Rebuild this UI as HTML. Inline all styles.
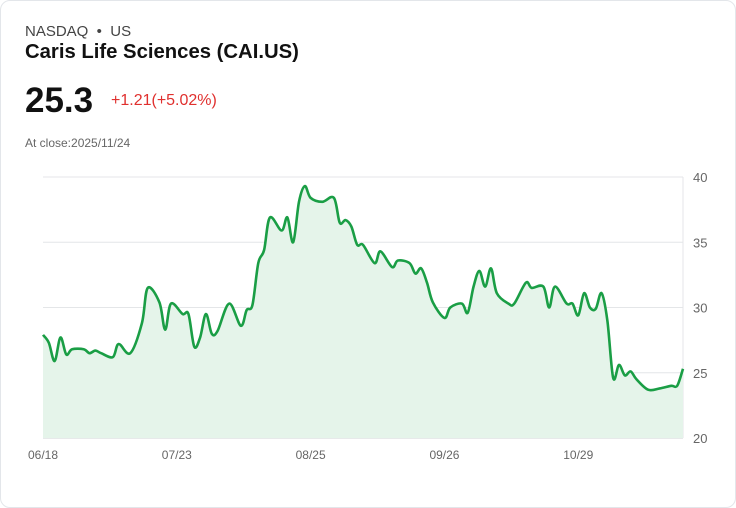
<!DOCTYPE html>
<html><head><meta charset="utf-8"><style>
body{margin:0;background:#fff;font-family:"Liberation Sans",sans-serif;}
.card{position:absolute;left:0;top:0;width:734px;height:506px;border:1px solid #e3e6ea;border-radius:10px;background:#fff;}
.t{position:absolute;white-space:nowrap;}
</style></head><body>
<div class="card">
<div class="t" style="left:24px;top:22px;font-size:15px;color:#444;">NASDAQ &nbsp;•&nbsp; US</div>
<div class="t" style="left:24px;top:40px;font-size:20.3px;font-weight:bold;color:#111;">Caris Life Sciences (CAI.US)</div>
<div class="t" style="left:24px;top:80px;font-size:35px;font-weight:bold;color:#111;">25.3</div>
<div class="t" style="left:110px;top:91px;font-size:16px;color:#e0302e;">+1.21(+5.02%)</div>
<div class="t" style="left:24px;top:135px;font-size:12px;color:#666;">At close:2025/11/24</div>
<svg id="chart" width="736" height="508" style="position:absolute;left:-2px;top:-2px;"></svg>
</div>
<script>
const days=[0,1,2,3,4,5,7,8,9,10,12,13,15,17,18,20,21,22,24,25,26,27,28,29,30,32,34,35,36,37,38,39,41,42,43,44,45,46,48,50,51,52,53,54,55,57,58,60,61,63,64,65,66,67,69,70,72,73,74,75,76,77,78,80,81,83,84,86,87,88,90,91,92,93,94,95,96,97,98,99,100,101,102,104,106,108,109,110];
const values=[27.9,27.3,25.9,27.7,26.4,26.8,26.8,26.5,26.7,26.5,26.2,27.2,26.5,28.8,31.5,30.4,28.3,30.3,29.5,29.5,27.0,27.7,29.5,28.0,28.2,30.3,28.6,29.8,30.2,33.4,34.4,36.9,35.9,36.9,35.0,38.1,39.3,38.4,38.1,38.4,36.5,36.7,36.2,34.8,34.8,33.4,34.3,33.1,33.6,33.4,32.6,33.0,31.9,30.4,29.2,30.0,30.3,29.6,31.6,32.8,31.6,33.0,31.1,30.3,30.3,31.9,31.5,31.6,30.0,31.6,30.3,30.3,29.4,31.1,30.0,29.9,31.1,29.0,24.6,25.6,24.8,25.1,24.5,23.7,23.8,24.0,24.0,25.3];
const yTicks=[20,25,30,35,40];
const xLabels=["06/18","07/23","08/25","09/26","10/29"];
const xLabelDays=[0,23,46,69,92];
const NS="http://www.w3.org/2000/svg";
const svg=document.getElementById('chart');
const X0=44,X1=684,Y0=439,Y1=178,maxDay=110,yMin=20,yMax=40;
const xs=d=>X0+(X1-X0)*d/maxDay;
const ys=v=>Y0-(Y0-Y1)*(v-yMin)/(yMax-yMin);
function mk(t,a){const e=document.createElementNS(NS,t);for(const k in a)e.setAttribute(k,a[k]);svg.appendChild(e);return e;}
yTicks.forEach(v=>{
 const l=mk('line',{x1:X0,x2:X1,y1:ys(v),y2:ys(v),stroke:v===20?'#cfd3d6':'#e4e6e8','stroke-width':1});
 
 
 const t=mk('text',{x:X1+10,y:ys(v)+5,'font-size':13,fill:'#666','font-family':'Liberation Sans, sans-serif'});
 t.textContent=v;
 
 
});
const ax=mk('line',{x1:X1,x2:X1,y1:Y1,y2:Y0,stroke:'#e4e6e8'});


xLabels.forEach((s,i)=>{
 const t=mk('text',{x:xs(xLabelDays[i]),y:460,'font-size':12,fill:'#666','text-anchor':'middle','font-family':'Liberation Sans, sans-serif'});
 t.textContent=s;
 
 
});
const P=days.map((d,i)=>[xs(d),ys(values[i])]);
let d='M'+P[0][0]+','+P[0][1];
for(let i=0;i<P.length-1;i++){
 const p0=P[Math.max(0,i-1)],p1=P[i],p2=P[i+1],p3=P[Math.min(P.length-1,i+2)];
 const c1=[p1[0]+(p2[0]-p0[0])/6,p1[1]+(p2[1]-p0[1])/6];
 const c2=[p2[0]-(p3[0]-p1[0])/6,p2[1]-(p3[1]-p1[1])/6];
 d+=`C${c1[0]},${c1[1]} ${c2[0]},${c2[1]} ${p2[0]},${p2[1]}`;
}
const area=mk('path',{d:d+`L${P[P.length-1][0]},${Y0}L${P[0][0]},${Y0}Z`,fill:'#e5f4ea'});


const line=mk('path',{d:d,fill:'none',stroke:'#1a9e45','stroke-width':2.6,'stroke-linejoin':'round'});


</script>
</body></html>
